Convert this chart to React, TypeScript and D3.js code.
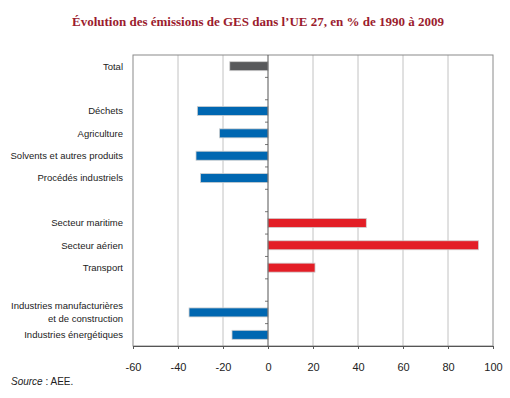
import { useEffect, useRef } from 'react'
import * as d3 from 'd3'

// slot keys from top to bottom (gap* are empty rows)
const slots = ['Total', 'gap1', 'Déchets', 'Agriculture', 'Solvents et autres produits', 'Procédés industriels', 'gap2', 'Secteur maritime', 'Secteur aérien', 'Transport', 'gap3', 'Industries manufacturières\net de construction', 'Industries énergétiques']
const categories = ['Total', 'Déchets', 'Agriculture', 'Solvents et autres produits', 'Procédés industriels', 'Secteur maritime', 'Secteur aérien', 'Transport', 'Industries manufacturières\net de construction', 'Industries énergétiques']
const values = [-17, -31.4, -21.6, -32, -30, 43.7, 93.6, 20.9, -35.1, -16]
const groups = ['total', 'neg', 'neg', 'neg', 'neg', 'pos', 'pos', 'pos', 'neg', 'neg']
const xTicks = [-60, -40, -20, 0, 20, 40, 60, 80, 100]

const colors: Record<string, string> = { total: '#58595b', neg: '#0067b1', pos: '#e31e26' }

export default function App() {
  const svgRef = useRef<SVGSVGElement>(null)

  useEffect(() => {
    document.body.style.margin = '0'
    if (!svgRef.current) return
    const svg = d3.select(svgRef.current)
    svg.selectAll('*').remove()

    const left = 133, right = 493, top = 55, bottom = 346
    const font = 'Liberation Sans, Arial, sans-serif'

    const x = d3.scaleLinear().domain([-60, 100]).range([left, right])
    const y = d3.scaleBand().domain(slots).range([top, bottom]).padding(0)
    const barH = 9

    // title
    svg.append('text')
      .attr('x', 258).attr('y', 26)
      .attr('text-anchor', 'middle')
      .attr('font-family', 'Liberation Serif, serif')
      .attr('font-weight', 'bold')
      .attr('font-size', 13)
      .attr('fill', '#9b1c2e')
      .text('Évolution des émissions de GES dans l’UE 27, en % de 1990 à 2009')

    // gridlines
    svg.append('g').selectAll('line')
      .data(xTicks.filter(d => d !== 0 && d !== -60 && d !== 100))
      .enter().append('line')
      .attr('x1', d => x(d)).attr('x2', d => x(d))
      .attr('y1', top).attr('y2', bottom)
      .attr('stroke', '#b3b3b3').attr('stroke-width', 0.8)

    // frame
    svg.append('rect')
      .attr('x', left).attr('y', top)
      .attr('width', right - left).attr('height', bottom - top)
      .attr('fill', 'none').attr('stroke', '#8a8a8a').attr('stroke-width', 1)

    // bars
    svg.append('g').selectAll('rect')
      .data(categories)
      .enter().append('rect')
      .attr('x', (d, i) => x(Math.min(0, values[i])))
      .attr('y', d => (y(d) || 0) + y.bandwidth() / 2 - barH / 2)
      .attr('width', (d, i) => Math.abs(x(values[i]) - x(0)))
      .attr('height', barH)
      .attr('fill', (d, i) => colors[groups[i]])
      .attr('stroke', '#d0d0d0').attr('stroke-width', 0.8)

    // zero line with band ticks
    svg.append('line')
      .attr('x1', x(0)).attr('x2', x(0))
      .attr('y1', top).attr('y2', bottom)
      .attr('stroke', '#555').attr('stroke-width', 1)
    svg.append('g').selectAll('line')
      .data(slots.slice(1))
      .enter().append('line')
      .attr('x1', x(0) - 3).attr('x2', x(0))
      .attr('y1', d => y(d) || 0).attr('y2', d => y(d) || 0)
      .attr('stroke', '#555').attr('stroke-width', 0.8)

    // category labels
    const lab = svg.append('g')
      .attr('font-family', font).attr('font-size', 9.5).attr('fill', '#222')
    categories.forEach(c => {
      const lines = c.split('\n')
      const cy = (y(c) || 0) + y.bandwidth() / 2
      lines.forEach((t, k) => {
        lab.append('text')
          .attr('x', 123)
          .attr('y', cy + (k - (lines.length - 1) / 2) * 12.5)
          .attr('dy', '0.35em')
          .attr('text-anchor', 'end')
          .text(t)
      })
    })

    // x axis
    const ax = svg.append('g').attr('transform', `translate(0,${bottom})`)
      .call(d3.axisBottom(x).tickValues(xTicks).tickSize(3).tickPadding(14).tickFormat(d => String(d)))
    ax.select('.domain').attr('stroke', '#555')
    ax.selectAll('line').attr('stroke', '#555')
    ax.selectAll('text').attr('font-family', font).attr('font-size', 11).attr('fill', '#222')

    // source
    const src = svg.append('text')
      .attr('x', 11).attr('y', 385)
      .attr('font-family', font).attr('font-size', 10).attr('fill', '#222')
    src.append('tspan').attr('font-style', 'italic').text('Source')
    src.append('tspan').text(' : AEE.')
  }, [])

  return <svg ref={svgRef} width={510} height={398} style={{ display: 'block' }} />
}
